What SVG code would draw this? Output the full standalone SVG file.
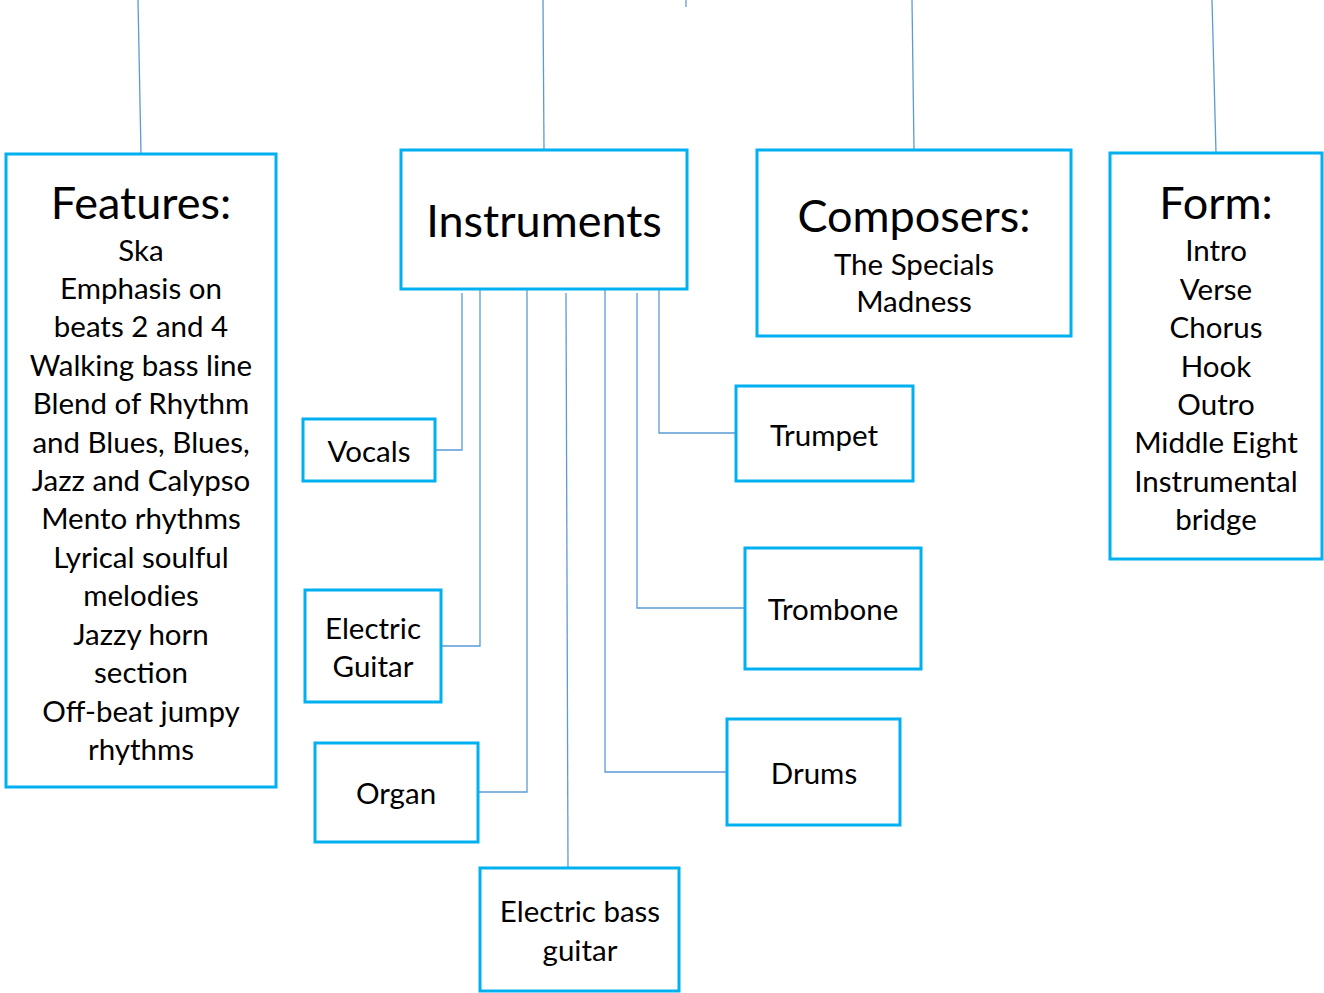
<svg xmlns="http://www.w3.org/2000/svg" width="1324" height="993" viewBox="0 0 1324 993">
<style>
.box{fill:#fff;stroke:#00B0F0;stroke-width:3}
.con{fill:none;stroke:#5B9BD5;stroke-width:1.3}
text{font-family:Lato,"Open Sans",sans-serif;fill:#000;text-anchor:middle}
.t{font-size:29.5px}
.h{font-size:45px}
</style>
<rect width="1324" height="993" fill="#fff"/>
<g id="connectors">
<path class="con" d="M138,0 L141,154"/>
<path class="con" d="M543,0 L544,150"/>
<path class="con" d="M686,0 L686,7"/>
<path class="con" d="M912,0 L914,150"/>
<path class="con" d="M1212,0 L1216,153"/>
<path class="con" d="M462,293 L462,450 L435,450"/>
<path class="con" d="M480,289 L480,646 L441,646"/>
<path class="con" d="M527,289 L527,792 L478,792"/>
<path class="con" d="M566,293 L568,868"/>
<path class="con" d="M605,289 L605,772 L727,772"/>
<path class="con" d="M637,293 L637,608 L745,608"/>
<path class="con" d="M659,289 L659,433 L736,433"/>
</g>
<g id="features">
<rect class="box" x="6" y="154" width="270" height="633"/>
<text class="h" x="141" y="219">Features:</text>
<text class="t" x="141" y="261">Ska</text>
<text class="t" x="141" y="299">Emphasis on</text>
<text class="t" x="141" y="337">beats 2 and 4</text>
<text class="t" x="141" y="376">Walking bass line</text>
<text class="t" x="141" y="414">Blend of Rhythm</text>
<text class="t" x="141" y="453">and Blues, Blues,</text>
<text class="t" x="141" y="491">Jazz and Calypso</text>
<text class="t" x="141" y="529">Mento rhythms</text>
<text class="t" x="141" y="568">Lyrical soulful</text>
<text class="t" x="141" y="606">melodies</text>
<text class="t" x="141" y="645">Jazzy horn</text>
<text class="t" x="141" y="683">section</text>
<text class="t" x="141" y="722">Off-beat jumpy</text>
<text class="t" x="141" y="760">rhythms</text>
</g>
<g id="instruments">
<rect class="box" x="401" y="150" width="286" height="139"/>
<text class="h" x="544" y="237">Instruments</text>
</g>
<g id="composers">
<rect class="box" x="757" y="150" width="314" height="186"/>
<text class="h" x="914" y="232">Composers:</text>
<text class="t" x="914" y="275">The Specials</text>
<text class="t" x="914" y="312">Madness</text>
</g>
<g id="form">
<rect class="box" x="1110" y="153" width="212" height="406"/>
<text class="h" x="1216" y="219">Form:</text>
<text class="t" x="1216" y="261">Intro</text>
<text class="t" x="1216" y="300">Verse</text>
<text class="t" x="1216" y="338">Chorus</text>
<text class="t" x="1216" y="377">Hook</text>
<text class="t" x="1216" y="415">Outro</text>
<text class="t" x="1216" y="453">Middle Eight</text>
<text class="t" x="1216" y="492">Instrumental</text>
<text class="t" x="1216" y="530">bridge</text>
</g>
<g id="vocals">
<rect class="box" x="303" y="419" width="132" height="62"/>
<text class="t" x="369" y="462">Vocals</text>
</g>
<g id="electric-guitar">
<rect class="box" x="305" y="590" width="136" height="112"/>
<text class="t" x="373" y="639">Electric</text>
<text class="t" x="373" y="677">Guitar</text>
</g>
<g id="organ">
<rect class="box" x="315" y="743" width="163" height="99"/>
<text class="t" x="396" y="804">Organ</text>
</g>
<g id="electric-bass">
<rect class="box" x="480" y="868" width="199" height="123"/>
<text class="t" x="580" y="922">Electric bass</text>
<text class="t" x="580" y="961">guitar</text>
</g>
<g id="trumpet">
<rect class="box" x="736" y="386" width="177" height="95"/>
<text class="t" x="824" y="446">Trumpet</text>
</g>
<g id="trombone">
<rect class="box" x="745" y="548" width="176" height="121"/>
<text class="t" x="833" y="620">Trombone</text>
</g>
<g id="drums">
<rect class="box" x="727" y="719" width="173" height="106"/>
<text class="t" x="814" y="784">Drums</text>
</g>
</svg>
